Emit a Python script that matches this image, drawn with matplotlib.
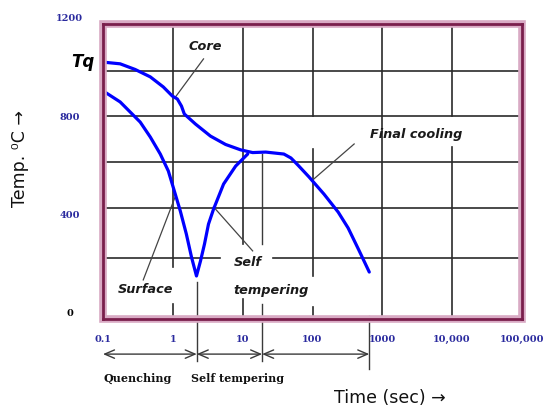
import matplotlib
matplotlib.use('Agg')
import matplotlib.pyplot as plt
import matplotlib.transforms as mtransforms
from matplotlib.patches import Rectangle

# ---- data ----
core_t = [0.1, 0.176, 0.289, 0.475, 0.73, 0.983, 1.16, 1.33, 1.46, 2.11, 3.46, 5.69,
          9.36, 13.9, 21.4, 38.9, 49.1, 61.9, 89, 146, 233, 324, 467, 650]
core_v = [1045, 1038, 1015, 985, 944, 907, 895, 866, 834, 793, 744, 710,
          688, 677, 679, 671, 655, 626, 578, 508, 435, 370, 277, 191]
surf_t = [0.1, 0.176, 0.341, 0.476, 0.661, 0.862, 1.05, 1.28, 1.56, 1.85, 2.18,
          2.49, 2.84, 3.24, 3.83, 5.33, 7.93, 11.8]
surf_v = [928, 883, 801, 740, 671, 602, 521, 439, 346, 252, 175,
          236, 305, 386, 447, 549, 622, 671]

x_ticks = [0.1, 1, 10, 100, 1000, 10000, 100000]
x_tick_labels = ['0.1', '1', '10', '100', '1000', '10,000', '100,000']
y_ticks = [0, 400, 800, 1200]
y_tick_labels = ['0', '400', '800', '1200']
phase_bounds = [0.1, 2.2, 19, 650]
phase_names = ['Quenching', 'Self tempering']

# grid segments (schematic grid of the original drawing)
hgrid_y = [1010, 825, 640, 450]
hgrid_broken_y = 250
vgrid = {1: [(212, 1200), (0, 61)],
         10: [(305, 1200), (0, 81)],
         100: [(826, 1200), (175, 692), (0, 49)],
         1000: [(0, 1200)],
         10000: [(826, 1200), (0, 700)]}

W, H = 550, 410
fig = plt.figure(figsize=(W / 100, H / 100), dpi=100)
ax = fig.add_axes([103 / W, 1 - 320 / H, 419 / W, 295 / H])
ax.set_xscale('log')
ax.set_xlim(0.1, 1e5)
ax.set_ylim(0, 1200)

gcol = '#2a2a2a'
glw = 1.2
for yv in hgrid_y:
    ax.axhline(yv, color=gcol, lw=glw, zorder=1)
ax.plot([0.1, 4.8], [hgrid_broken_y] * 2, color=gcol, lw=glw, zorder=1)
ax.plot([27, 1e5], [hgrid_broken_y] * 2, color=gcol, lw=glw, zorder=1)
for xv, segs in vgrid.items():
    for y0, y1 in segs:
        ax.plot([xv, xv], [y0, y1], color=gcol, lw=glw, zorder=1)

# curves
for tt, vv in ((core_t, core_v), (surf_t, surf_v)):
    ax.plot(tt, vv, color='#0000ff', lw=2.3, zorder=3,
            solid_capstyle='round', solid_joinstyle='round')

# border
for s in ax.spines.values():
    s.set_color('#7a1f4c')
    s.set_linewidth(2.0)
    s.set_zorder(5)
halo = Rectangle((0, 0), 1, 1, transform=ax.transAxes, fill=False,
                 edgecolor='#d9aac4', lw=5.5, zorder=4, clip_on=False)
ax.add_patch(halo)

# ticks
ax.set_xticks(x_ticks)
ax.set_xticklabels(x_tick_labels)
ax.minorticks_off()
ax.set_yticks(y_ticks)
ax.set_yticklabels(y_tick_labels)
ax.tick_params(axis='both', length=0)
ax.tick_params(axis='x', pad=11)
ax.tick_params(axis='y', pad=24)
tick_col = '#2a2a9e'
for lab in ax.get_xticklabels():
    lab.set_fontfamily('DejaVu Serif')
    lab.set_fontweight('bold')
    lab.set_fontsize(7)
    lab.set_color(tick_col)
off = mtransforms.ScaledTranslation(0, 0.07, fig.dpi_scale_trans)
for lab in ax.get_yticklabels():
    lab.set_fontfamily('DejaVu Serif')
    lab.set_fontweight('bold')
    lab.set_fontsize(7)
    lab.set_color(tick_col if lab.get_text() != '0' else 'black')
    lab.set_horizontalalignment('center')
    lab.set_transform(lab.get_transform() + off)

# annotations
afont = dict(fontfamily='DejaVu Sans', fontstyle='italic', fontweight='bold',
             fontsize=9.3, color='#1a1a1a', zorder=6)
lcol = '#444444'
ax.text(2.93, 1111, 'Core', ha='center', va='center', **afont)
ax.plot([2.75, 1.09], [1058, 903], color=lcol, lw=0.9, zorder=2)
ax.text(3084, 753, 'Final cooling', ha='center', va='center', **afont)
ax.plot([395, 105], [712, 570], color=lcol, lw=0.9, zorder=2)
ax.text(0.402, 125, 'Surface', ha='center', va='center', **afont)
ax.plot([0.377, 1.09], [159, 500], color=lcol, lw=0.9, zorder=2)
ax.text(7.42, 232, 'Self', ha='left', va='center', **afont)
ax.text(7.42, 122, 'tempering', ha='left', va='center', **afont)
ax.plot([13.9, 3.83], [277, 456], color=lcol, lw=0.9, zorder=2)

ax.text(-0.048, 1050, 'Tq', transform=mtransforms.blended_transform_factory(ax.transAxes, ax.transData),
        ha='center', va='center', fontsize=12, fontstyle='italic', fontweight='bold',
        color='black', clip_on=False)

# phase arrows below axis
bt = mtransforms.blended_transform_factory(ax.transData, ax.transAxes)
ya = -0.119
for i in range(len(phase_bounds) - 1):
    ax.annotate('', xy=(phase_bounds[i + 1], ya), xytext=(phase_bounds[i], ya),
                xycoords=bt, textcoords=bt,
                arrowprops=dict(arrowstyle='<->,head_length=0.7,head_width=0.3',
                                color='#3a3a3a', lw=1.0, shrinkA=0, shrinkB=0))
bound_segs = {phase_bounds[1]: [(0.125, -0.142)],
              phase_bounds[2]: [(0.559, 0.254), (0.051, -0.142)],
              phase_bounds[3]: [(0.010, -0.169)]}
for xv, segs in bound_segs.items():
    for y0, y1 in segs:
        ax.plot([xv, xv], [y0, y1], color='#3a3a3a', lw=1.0, transform=bt,
                clip_on=False, zorder=2)

pfont = dict(fontfamily='DejaVu Serif', fontweight='bold', fontsize=8, color='#111111')
ax.text(0.319, -0.197, phase_names[0], transform=bt, ha='center', va='center', **pfont)
ax.text(8.46, -0.197, phase_names[1], transform=bt, ha='center', va='center', **pfont)

fig.text(390 / W, 1 - 398 / H, 'Time (sec) \u2192', ha='center', va='center',
         fontsize=12.5, fontfamily='DejaVu Sans', color='#111111')
fig.text(20 / W, 1 - 159 / H, 'Temp. \u2070C \u2192', ha='center', va='center',
         rotation=90, fontsize=12.5, fontfamily='DejaVu Sans', color='#111111')

fig.savefig('out.png', dpi=100, facecolor='white')
